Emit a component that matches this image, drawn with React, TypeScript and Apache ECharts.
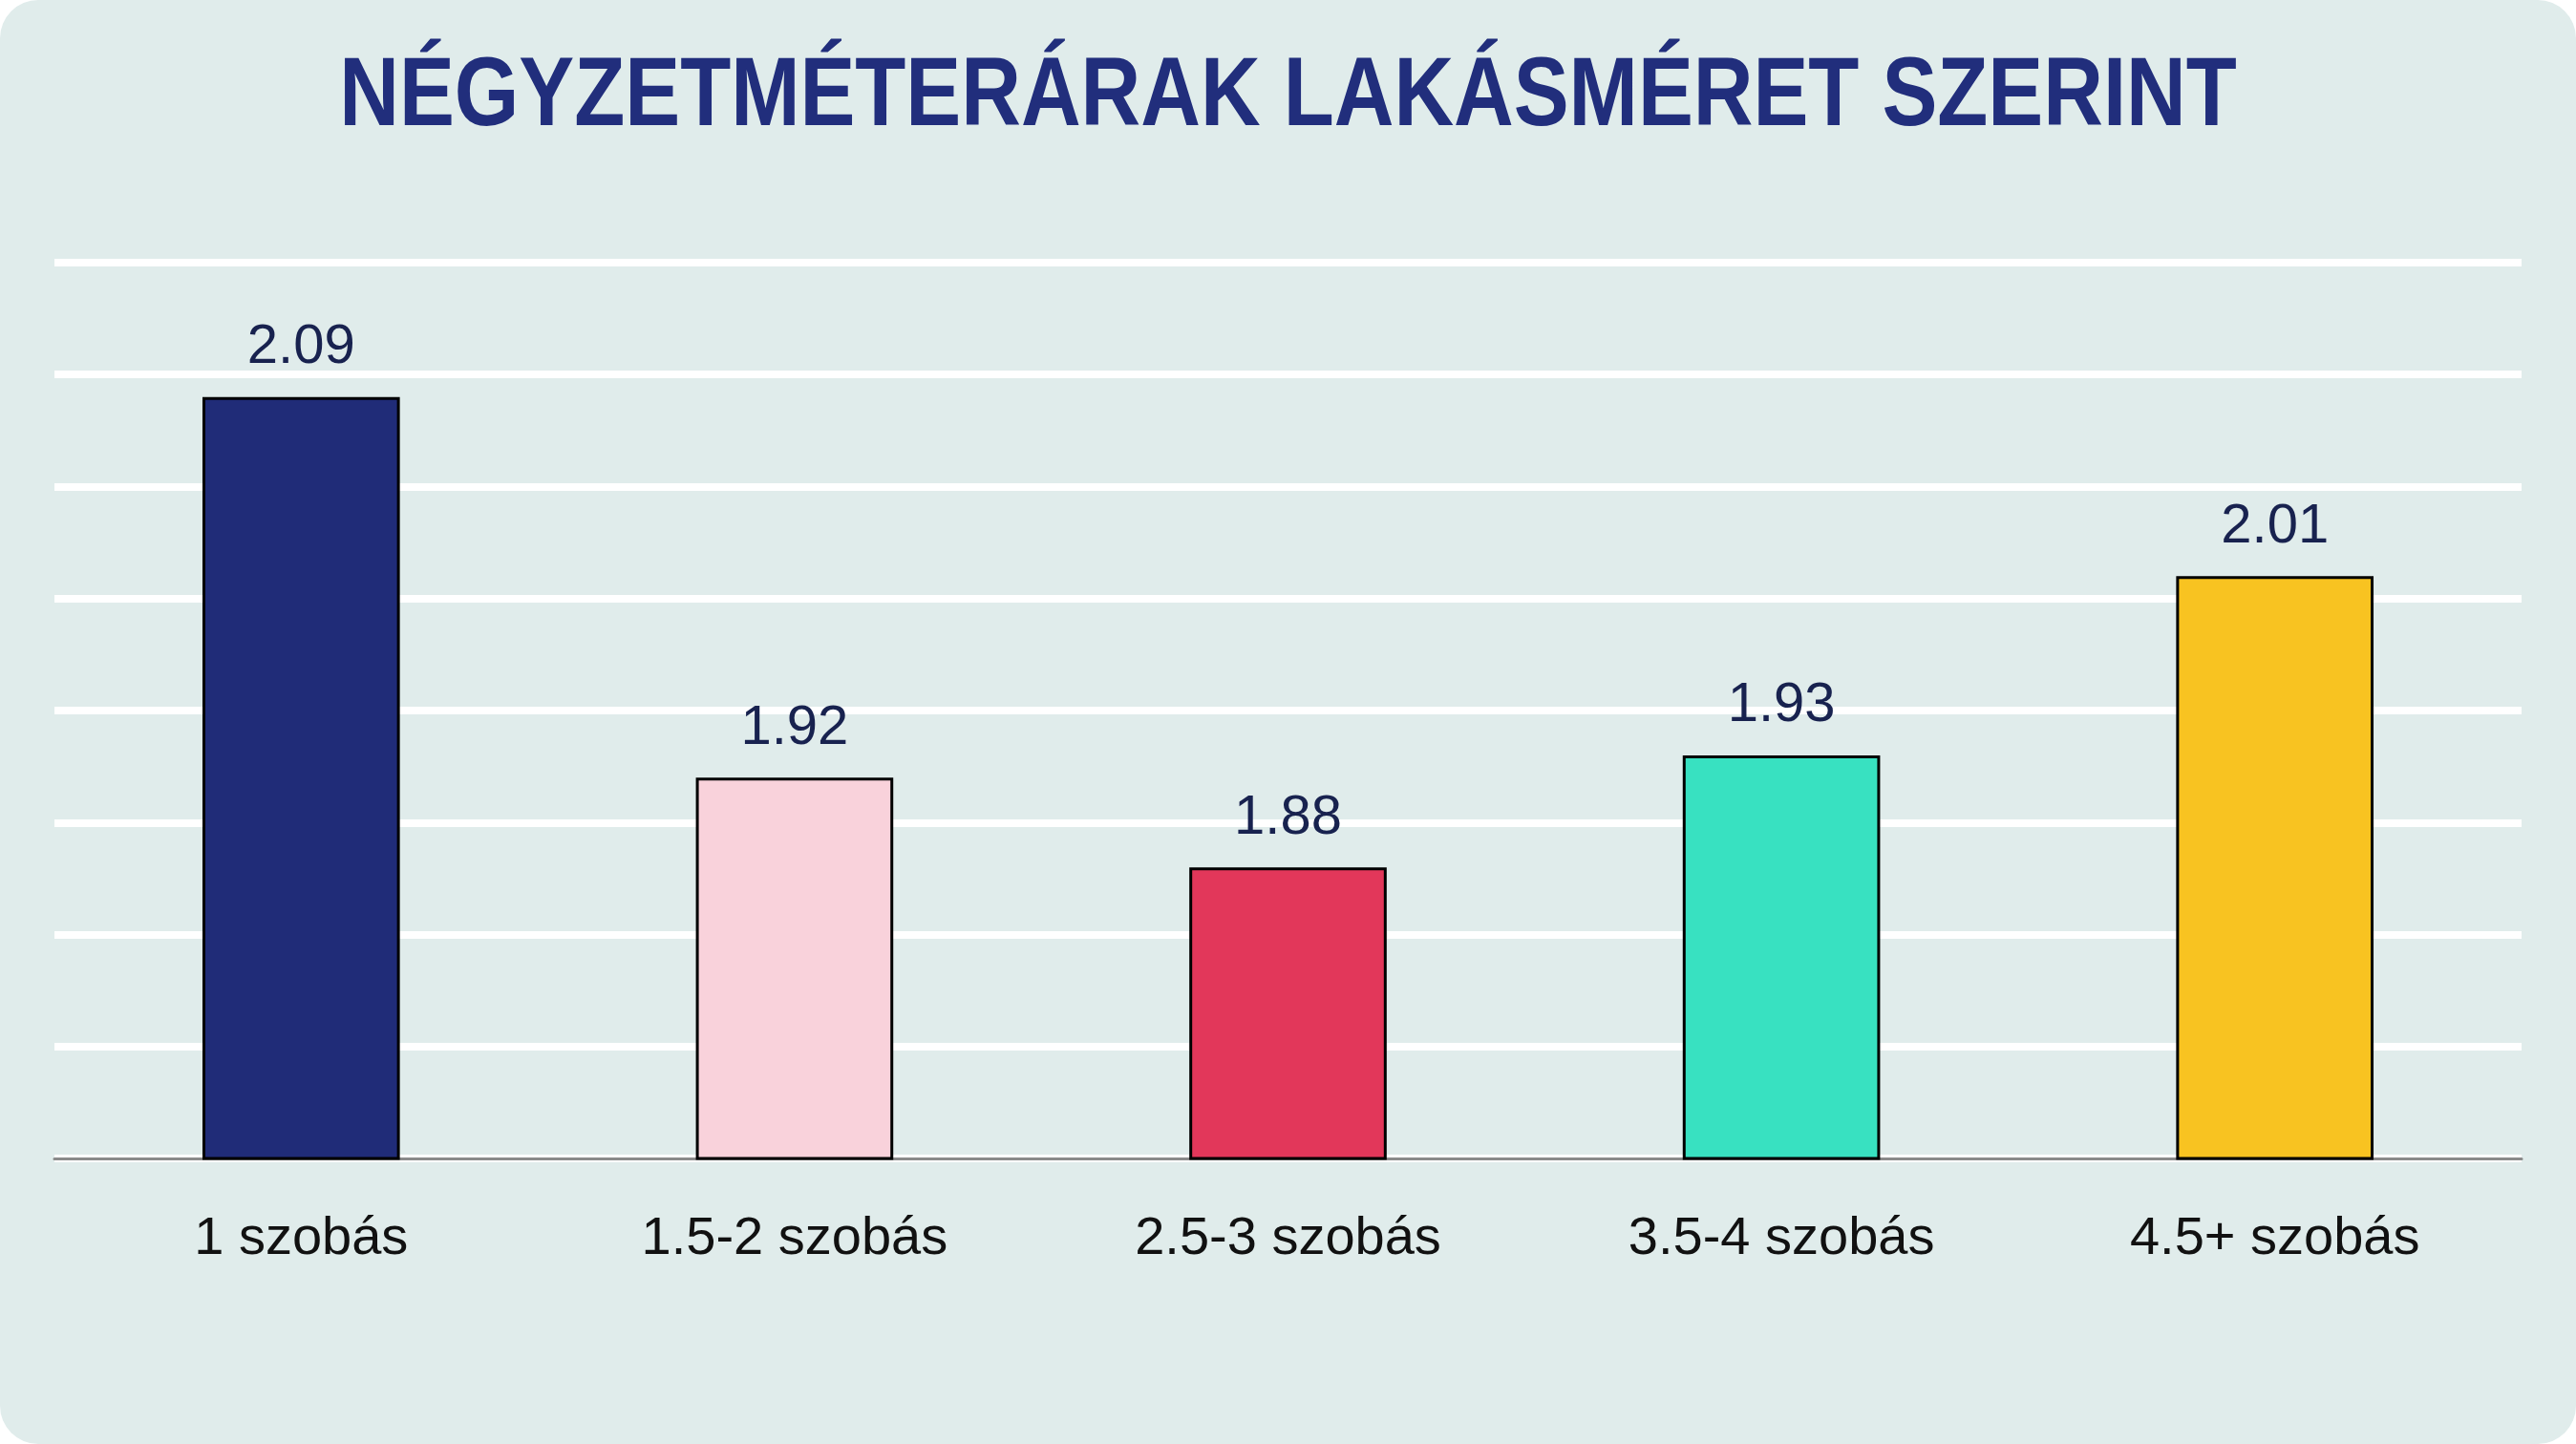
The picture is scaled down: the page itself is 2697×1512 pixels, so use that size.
import React, { useEffect, useRef } from "react";
import * as echarts from "echarts";

const titleText = "NÉGYZETMÉTERÁRAK LAKÁSMÉRET SZERINT";
const categories = ["1 szobás", "1.5-2 szobás", "2.5-3 szobás", "3.5-4 szobás", "4.5+ szobás"];
const values = [2.09, 1.92, 1.88, 1.93, 2.01];
const barColors = ["#202C78", "#F9D2DB", "#E2375A", "#38E1C1", "#F8C321"];
const yMin = 1.75;
const yMax = 2.15;
const yStep = 0.05;

export default function App() {
  const ref = useRef<HTMLDivElement>(null);
  useEffect(() => {
    if (!ref.current) return;
    const chart = echarts.init(ref.current, undefined, { renderer: "svg" });
    const w = ref.current.clientWidth;
    chart.setOption({
      animation: false,
      backgroundColor: "transparent",
      graphic: [
        {
          type: "text",
          x: w / 2,
          y: 44,
          scaleX: 0.851,
          style: {
            text: titleText,
            textAlign: "center",
            textVerticalAlign: "top",
            fontFamily: "'Liberation Sans', sans-serif",
            fontWeight: "bold",
            fontSize: 102,
            lineHeight: 102,
            fill: "#212E7C",
          },
        },
      ],
      grid: { left: 57, right: 57, top: 275, bottom: 299, containLabel: false },
      xAxis: {
        type: "category",
        data: categories,
        axisLine: { show: true, lineStyle: { color: "#8A8A8A", width: 3 } },
        axisTick: { show: false },
        axisLabel: {
          margin: 52,
          fontSize: 56,
          lineHeight: 56,
          color: "#111111",
          fontFamily: "'Liberation Sans', sans-serif",
        },
      },
      yAxis: {
        type: "value",
        min: yMin,
        max: yMax,
        interval: yStep,
        axisLabel: { show: false },
        axisLine: { show: false },
        axisTick: { show: false },
        splitLine: { show: true, lineStyle: { color: "#FFFFFF", width: 8 } },
      },
      series: [
        {
          type: "bar",
          barWidth: "40%",
          data: values.map((v, i) => ({
            value: v,
            itemStyle: { color: barColors[i], borderColor: "#000000", borderWidth: 3 },
          })),
          label: {
            show: true,
            position: "top",
            distance: 27,
            fontSize: 58,
            lineHeight: 58,
            color: "#18224F",
            fontFamily: "'Liberation Sans', sans-serif",
            formatter: (p: any) => p.value.toFixed(2),
          },
        },
      ],
    });
    return () => chart.dispose();
  }, []);
  return (
    <div style={{ position: "fixed", left: 0, top: 0, width: "100vw", height: "100vh", background: "#FFFFFF" }}>
      <div style={{ width: "100%", height: "100%", background: "#E0ECEB", borderRadius: 40, overflow: "hidden" }}>
        <div ref={ref} style={{ width: "100%", height: "100%" }} />
      </div>
    </div>
  );
}
